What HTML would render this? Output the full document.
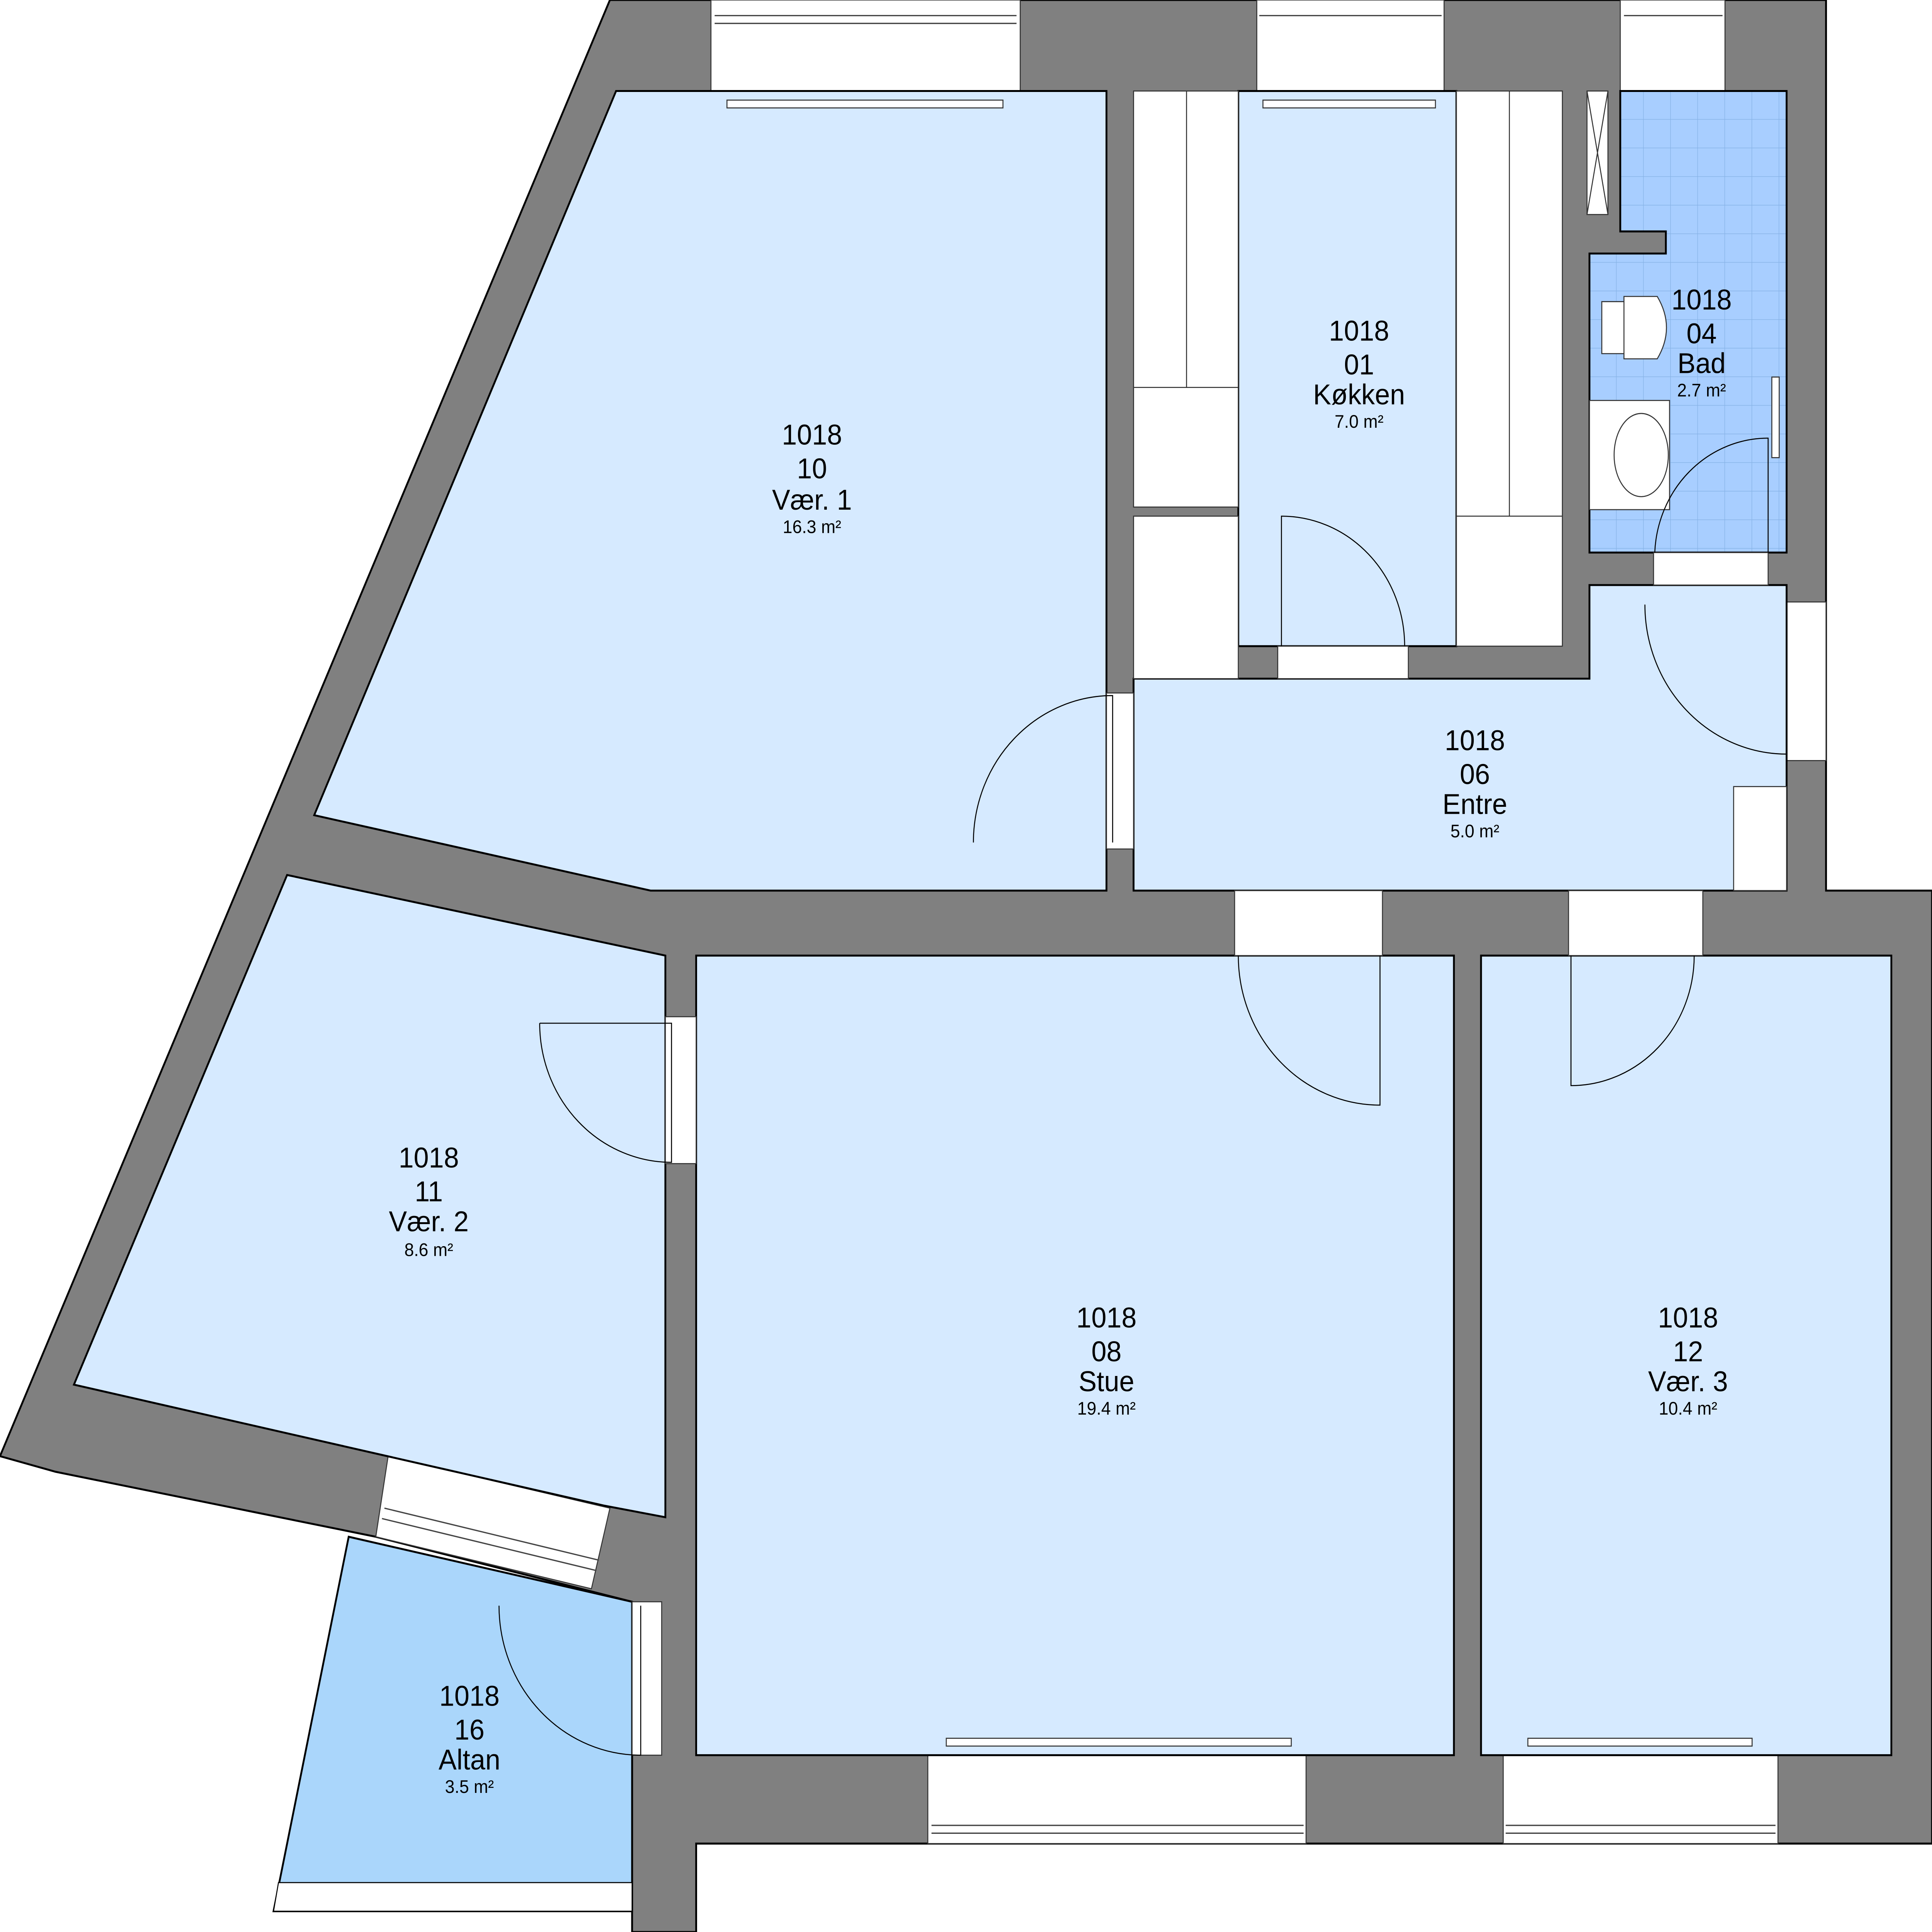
<!DOCTYPE html>
<html><head><meta charset="utf-8"><style>html,body{margin:0;padding:0;background:#fff;overflow:hidden;width:100%;height:100%}svg{display:block;position:fixed;left:0;top:0;width:100vw;height:100vh}text{font-family:"Liberation Sans",sans-serif;text-anchor:middle;fill:#000}</style></head>
<body>
<svg viewBox="0 0 1568 1486" preserveAspectRatio="none" xmlns="http://www.w3.org/2000/svg">
<defs>
<pattern id="tile" width="22" height="22" patternUnits="userSpaceOnUse" x="1290" y="70">
<rect width="22" height="22" fill="#a8ceff"/><path d="M22 0V22M0 22H22" stroke="#86b2e6" stroke-width="0.8"/>
</pattern>
</defs>
<rect width="1568" height="1486" fill="#fff"/>
<!-- walls base -->
<polygon fill="#808080" stroke="#000" stroke-width="1.5" points="495,0 1482,0 1482,685 1568,685 1568,1418 565,1418 565,1486 513,1486 513,1232 305,1182 45,1132 0,1120"/>
<!-- windows in walls -->
<g fill="#fff" stroke="#333" stroke-width="0.8">
<rect x="577" y="0" width="251" height="70"/><rect x="1020" y="0" width="152" height="70"/><rect x="1315" y="0" width="85" height="70"/>
<rect x="753" y="1350" width="307" height="68"/><rect x="1220" y="1350" width="223" height="68"/>
<rect x="1450" y="463" width="32" height="122"/>
<polygon points="315,1120 495,1160 480,1222 305,1182"/>
</g>
<g fill="none" stroke="#444" stroke-width="1">
<path d="M580 12H825M580 18H825M1022 12H1170M1318 12H1398M756 1404H1058M756 1410H1058M1222 1404H1441M1222 1410H1441M310 1168L484 1208M312 1160L486 1200"/>
</g>
<!-- rooms -->
<g fill="#d6eaff" stroke="#000" stroke-width="1.5">
<polygon points="500,70 898,70 898,685 528,685 255,627"/>
<rect x="1005" y="70" width="177" height="427"/>
<polygon points="920,522 1290,522 1290,450 1450,450 1450,685 920,685"/>
<polygon points="233,673 540,735 540,1167 490,1158 60,1065"/>
<rect x="565" y="735" width="615" height="615"/>
<rect x="1202" y="735" width="333" height="615"/>
</g>
<polygon fill="#aad6fb" stroke="#000" stroke-width="1.5" points="283,1182 513,1232 513,1470 222,1470"/>
<polygon fill="#fff" stroke="#000" stroke-width="0.8" points="226,1448 513,1448 513,1470 222,1470"/>
<polygon fill="url(#tile)" stroke="#000" stroke-width="1.5" points="1315,70 1450,70 1450,425 1290,425 1290,195 1352,195 1352,178 1315,178"/>
<!-- white cabinets / openings -->
<g fill="#fff" stroke="#333" stroke-width="0.8">
<rect x="920" y="70" width="85" height="320"/><path d="M920 298H1005M963 70V298" fill="none"/>
<rect x="920" y="397" width="85" height="125"/>
<rect x="1182" y="70" width="86" height="427"/><path d="M1182 397H1268M1225 70V397" fill="none"/>
<rect x="1288" y="70" width="17" height="95"/><path d="M1288 70L1305 165M1305 70L1288 165" fill="none"/>
<rect x="1407" y="605" width="43" height="80"/>
<rect x="1037" y="497" width="106" height="25"/>
<rect x="1342" y="425" width="93" height="25"/>
<rect x="898" y="533" width="22" height="120"/>
<rect x="1002" y="685" width="120" height="50"/>
<rect x="1273" y="685" width="109" height="50"/>
<rect x="540" y="782" width="25" height="113"/>
<rect x="513" y="1232" width="24" height="118"/>
<rect x="1290" y="308" width="65" height="84"/>
<path d="M1300 232H1318V272H1300Z M1318 228H1345Q1360 252 1345 276H1318Z"/>
<ellipse cx="1332" cy="350" rx="22" ry="32"/>
<rect x="590" y="77" width="224" height="6"/><rect x="1025" y="77" width="140" height="6"/>
<rect x="768" y="1337" width="280" height="6"/><rect x="1240" y="1337" width="182" height="6"/>
<rect x="1438" y="290" width="6" height="62"/>
</g>
<!-- doors -->
<g fill="none" stroke="#000" stroke-width="0.8">
<path d="M790 648A113 113 0 0 1 903 535V648"/>
<path d="M1140 497A100 100 0 0 0 1040 397V497"/>
<path d="M1343 425A92 92 0 0 1 1435 337V425"/>
<path d="M1335 465A115 115 0 0 0 1450 580V465"/>
<path d="M1005 735A115 115 0 0 0 1120 850V735"/>
<path d="M1375 735A100 100 0 0 1 1275 835V735"/>
<path d="M438 787H545V894A107 107 0 0 1 438 787"/>
<path d="M405 1235A115 115 0 0 0 520 1350V1235"/>
</g>
<!-- labels -->
<g font-size="22">
<text x="659" y="342">1018</text><text x="659" y="368">10</text><text x="659" y="392">Vær. 1</text><text x="659" y="410" font-size="14">16.3 m²</text>
<text x="1103" y="262">1018</text><text x="1103" y="288">01</text><text x="1103" y="311">Køkken</text><text x="1103" y="329" font-size="14">7.0 m²</text>
<text x="1381" y="238">1018</text><text x="1381" y="264">04</text><text x="1381" y="287">Bad</text><text x="1381" y="305" font-size="14">2.7 m²</text>
<text x="1197" y="577">1018</text><text x="1197" y="603">06</text><text x="1197" y="626">Entre</text><text x="1197" y="644" font-size="14">5.0 m²</text>
<text x="348" y="898">1018</text><text x="348" y="924">11</text><text x="348" y="947">Vær. 2</text><text x="348" y="966" font-size="14">8.6 m²</text>
<text x="898" y="1021">1018</text><text x="898" y="1047">08</text><text x="898" y="1070">Stue</text><text x="898" y="1088" font-size="14">19.4 m²</text>
<text x="1370" y="1021">1018</text><text x="1370" y="1047">12</text><text x="1370" y="1070">Vær. 3</text><text x="1370" y="1088" font-size="14">10.4 m²</text>
<text x="381" y="1312">1018</text><text x="381" y="1338">16</text><text x="381" y="1361">Altan</text><text x="381" y="1379" font-size="14">3.5 m²</text>
</g>
</svg>
</body></html>
